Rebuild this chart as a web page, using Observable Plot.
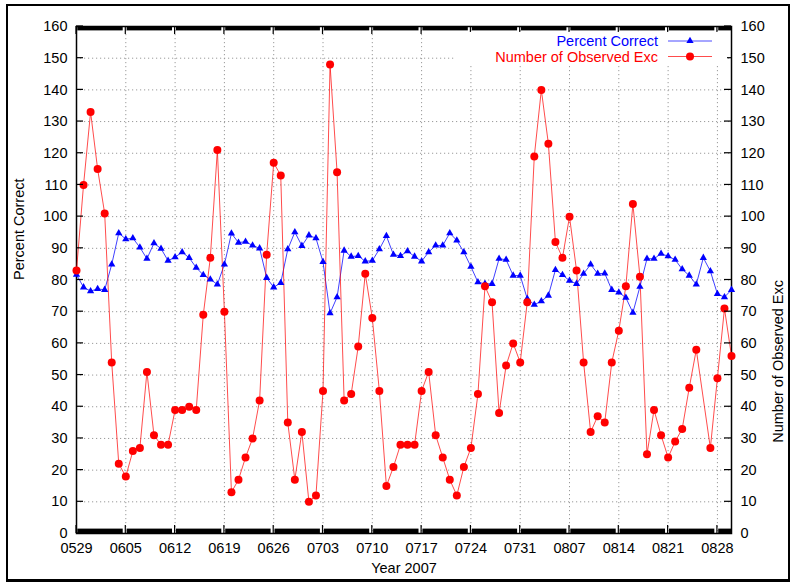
<!DOCTYPE html>
<html><head><meta charset="utf-8">
<script src="https://cdn.jsdelivr.net/npm/d3@7"></script>
<script src="https://cdn.jsdelivr.net/npm/@observablehq/plot@0.6"></script>
<style>
body{margin:0;background:#fff;font-family:"Liberation Sans",Arial,sans-serif;}
#wrap{position:relative;width:791px;height:583px;overflow:hidden;}
#chart{position:absolute;left:0;top:0;}
#border{position:absolute;left:6px;top:4px;width:784px;height:578px;border:2px solid #000;border-bottom-width:3px;box-sizing:border-box;pointer-events:none;}
</style></head><body>
<div id="wrap"><div id="chart"></div><div id="border"></div></div>
<script>
// ---- data ----
const dates = ["0529","0530","0531",
"0601","0602","0603","0604","0605","0606","0607","0608","0609","0610","0611","0612","0613","0614","0615","0616","0617","0618","0619","0620","0621","0622","0623","0624","0625","0626","0627","0628","0629","0630",
"0701","0702","0703","0704","0705","0706","0707","0708","0709","0710","0711","0712","0713","0714","0715","0716","0717","0718","0719","0720","0721","0722","0723","0724","0725","0726","0727","0728","0729","0730","0731",
"0801","0802","0803","0804","0805","0806","0807","0808","0809","0810","0811","0812","0813","0814","0815","0816","0817","0818","0819","0820","0821","0822","0823","0824","0825","0826","0827","0828","0829","0830"];
const percentCorrect = [81.7,77.7,76.5,
77.2,76.9,84.9,94.8,92.9,93.2,90.3,86.7,91.6,89.9,86.1,87.2,88.8,87.0,83.9,81.6,80.2,78.6,84.9,94.7,91.8,92.1,90.9,90.0,80.7,77.7,79.1,89.7,
95.1,90.8,94.1,93.2,85.7,69.5,74.6,89.3,87.4,87.6,85.9,86.1,89.7,93.9,88.0,87.6,89.1,87.4,85.9,88.8,90.9,90.9,94.8,92.5,88.8,84.2,79.3,78.8,78.8,86.7,86.4,
81.4,81.4,74.1,72.2,73.3,75.1,83.2,81.6,79.8,78.8,82.0,84.9,82.0,82.1,76.9,76.1,74.4,69.7,77.9,86.7,86.7,88.3,87.5,86.4,83.4,81.4,78.6,87.0,82.8,75.6,74.6,76.9];
const observedExc = [83,110,133,
115,101,54,22,18,26,27,51,31,28,28,39,39,40,39,69,87,121,70,13,17,24,30,42,88,117,113,35,
17,32,10,12,45,148,114,42,44,59,82,68,45,15,21,28,28,28,45,51,31,24,17,12,21,27,44,78,73,38,53,
60,54,73,119,140,123,92,87,100,83,54,32,37,35,54,64,78,104,81,25,39,31,24,29,33,46,58,null,27,49,71,56];
const xTickLabels = ["0529","0605","0612","0619","0626","0703","0710","0717","0724","0731","0807","0814","0821","0828"];
const yTicks = [0,10,20,30,40,50,60,70,80,90,100,110,120,130,140,150,160];
const seriesNames = ["Percent Correct","Number of Observed Exc"];
const seriesColors = ["#0000ff","#ff0000"];
const axisTitles = {y: "Percent Correct", y2: "Number of Observed Exc", x: "Year 2007"};

// ---- build ----
const W = 791, H = 583, mL = 76, mR = 60, mT = 26, mB = 50;
const parse = s => new Date(Date.UTC(2007, +s.slice(0,2) - 1, +s.slice(2)));
const rows = dates.map((d, i) => ({date: parse(d), pc: percentCorrect[i], oe: observedExc[i]}));
const redRows = rows.filter(d => d.oe != null);
const tickDates = xTickLabels.map(parse);
const xStart = parse(dates[0]), xEnd = parse(dates[dates.length - 1]);
const yMin = yTicks[0], yMax = yTicks[yTicks.length - 1];
const fmt = d3.utcFormat("%m%d");
const gridStyle = {stroke: "#9a9a9a", strokeOpacity: 1, strokeDasharray: "1.2,2.8", strokeWidth: 1};

const chart = Plot.plot({
  width: W, height: H,
  marginLeft: mL, marginRight: mR, marginTop: mT, marginBottom: mB,
  style: {fontFamily: "'Liberation Sans', Arial, sans-serif", fontSize: "14.5px", background: "white", color: "black"},
  x: {type: "utc", domain: [xStart, xEnd]},
  y: {domain: [yMin, yMax]},
  marks: [
    Plot.gridY(yTicks.filter(v => v > yMin && v < yMax), gridStyle),
    Plot.gridX(tickDates.slice(1), gridStyle),
    Plot.frame({stroke: "black", strokeWidth: 1.5}),
    Plot.axisY(yTicks, {anchor: "left", tickSize: 0, tickPadding: 9, label: null}),
    Plot.axisY(yTicks, {anchor: "right", tickSize: 0, tickPadding: 9, label: null}),
    Plot.axisX(tickDates, {anchor: "bottom", tickSize: 0, tickPadding: 9.5, tickFormat: fmt, label: null}),
    Plot.text([axisTitles.y], {frameAnchor: "left", rotate: -90, dx: -57, fontSize: 14.5}),
    Plot.text([axisTitles.y2], {frameAnchor: "right", rotate: -90, dx: 47, fontSize: 14.5}),
    Plot.text([axisTitles.x], {frameAnchor: "bottom", dy: 39, fontSize: 14.5}),
    Plot.line(rows, {x: "date", y: "pc", stroke: seriesColors[0], strokeWidth: 1, strokeOpacity: 0.75}),
    Plot.line(redRows, {x: "date", y: "oe", stroke: seriesColors[1], strokeWidth: 1, strokeOpacity: 0.7}),
    Plot.dot(rows, {x: "date", y: "pc", symbol: "triangle", r: 2.7, fill: seriesColors[0], stroke: "none"}),
    Plot.dot(redRows, {x: "date", y: "oe", r: 4, fill: seriesColors[1], stroke: "none"})
  ]
});
document.getElementById("chart").appendChild(chart);

// ---- tick decorations through the chart's own scales ----
const svg = d3.select(chart);
const xs = v => chart.scale("x").apply(v);
const ys = v => chart.scale("y").apply(v);
const deco = svg.append("g").attr("stroke", "black").attr("fill", "black");
const xL = xs(xStart), xR = xs(xEnd), yB = ys(yMin), yT = ys(yMax);
const bandPx = 4.4;
tickDates.forEach((d, i) => {
  const a = xs(d) + 1.3;
  const b = i + 1 < tickDates.length ? xs(tickDates[i + 1]) - 2.6 : xR;
  deco.append("rect").attr("x", a).attr("width", Math.max(0, b - a)).attr("y", yB - bandPx).attr("height", bandPx).attr("stroke", "none");
  deco.append("rect").attr("x", a).attr("width", Math.max(0, b - a)).attr("y", yT).attr("height", bandPx).attr("stroke", "none");
  deco.append("line").attr("x1", xs(d)).attr("x2", xs(d)).attr("y1", yB).attr("y2", yB - 8).attr("stroke-width", 1.2);
  deco.append("line").attr("x1", xs(d)).attr("x2", xs(d)).attr("y1", yT).attr("y2", yT + 8).attr("stroke-width", 1.2);
});
yTicks.forEach(v => {
  deco.append("line").attr("x1", xL).attr("x2", xL + 7).attr("y1", ys(v)).attr("y2", ys(v)).attr("stroke-width", 1.2);
  deco.append("line").attr("x1", xR).attr("x2", xR - 7).attr("y1", ys(v)).attr("y2", ys(v)).attr("stroke-width", 1.2);
});

// ---- legend (inside plot, top-right) ----
const lg = svg.append("g").attr("font-family", "'Liberation Sans', Arial, sans-serif").attr("font-size", "14.5px");
lg.append("rect").attr("x", 455).attr("y", yT + bandPx + 1.5).attr("width", 272).attr("height", 65 - (yT + bandPx + 1.5)).attr("fill", "white");
const symbols = [d3.symbolTriangle, d3.symbolCircle];
const symSizes = [2.7 * 2.7 * Math.PI, 16 * Math.PI];
seriesNames.forEach((name, i) => {
  const y = 41 + i * 15.5;
  lg.append("text").attr("x", 658).attr("y", y).attr("dy", "0.35em").attr("text-anchor", "end").attr("fill", seriesColors[i]).text(name);
  lg.append("line").attr("x1", 668).attr("x2", 712).attr("y1", y).attr("y2", y).attr("stroke", seriesColors[i]).attr("stroke-opacity", 0.7);
  lg.append("path").attr("transform", `translate(690,${y})`).attr("d", d3.symbol(symbols[i], symSizes[i])()).attr("fill", seriesColors[i]);
});
</script>
</body></html>
